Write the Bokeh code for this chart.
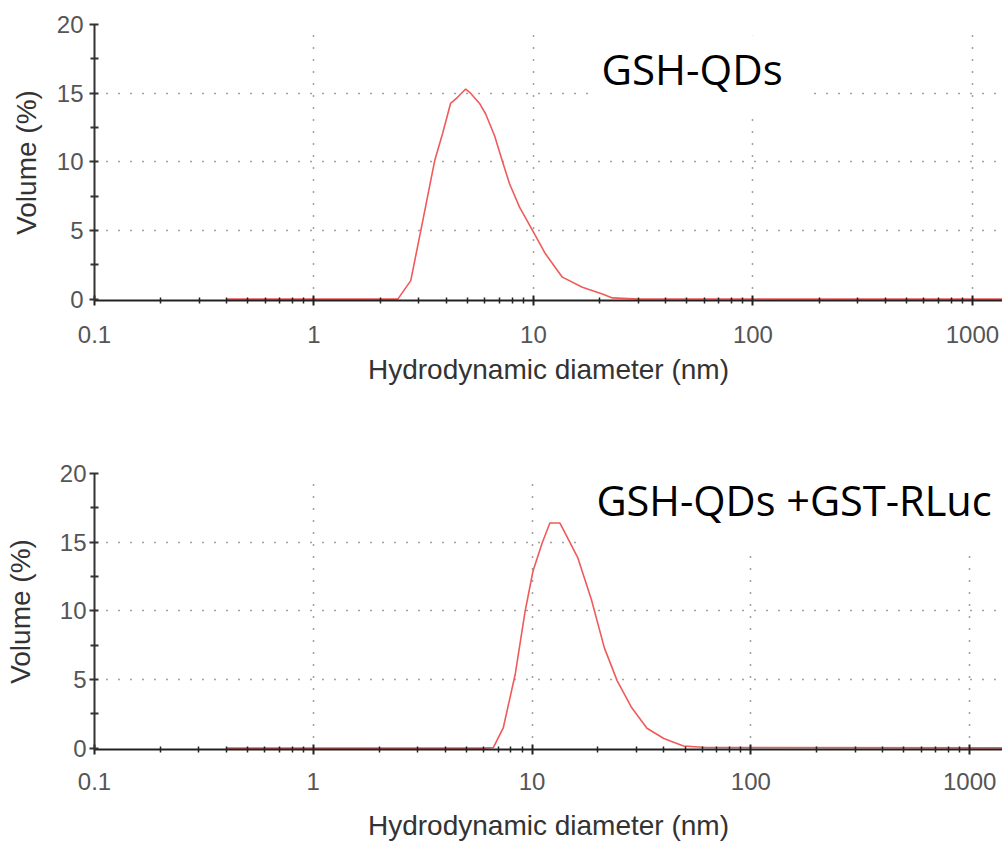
from bokeh.plotting import figure
from bokeh.layouts import column
from bokeh.models import Range1d, FixedTicker, Label, ColumnDataSource
from bokeh.embed import file_html
from bokeh.resources import INLINE

# ---------------- data ----------------
x_major_ticks = [0.1, 1, 10, 100, 1000]
x_tick_labels = ["0.1", "1", "10", "100", "1000"]
x_minor_ticks = [m * d for d in [0.1, 1, 10, 100, 1000] for m in range(2, 10)]
x_grid_ticks = [1, 10, 100, 1000]
y_major_ticks = [0, 5, 10, 15, 20]
y_minor_ticks = [2.5, 7.5, 12.5, 17.5]
y_grid_ticks = [5, 10, 15, 20]

# GSH-QDs
size_qd = [0.4, 2.41, 2.76, 3.13, 3.55, 3.86, 4.19, 4.51, 4.91, 5.17, 5.68,
           6.05, 6.65, 7.23, 7.78, 8.64, 9.9, 11.34, 13.54, 16.7, 20.6,
           22.9, 30.3, 10000]
volume_qd = [0, 0, 1.35, 5.7, 10.1, 12.1, 14.25, 14.7, 15.3, 15.0, 14.25,
             13.5, 11.9, 10.0, 8.4, 6.7, 5.0, 3.3, 1.6, 0.86, 0.38,
             0.09, 0.01, 0]

# GSH-QDs + GST-RLuc
size_rluc = [0.4, 6.0, 6.66, 7.39, 8.38, 9.30, 10.1, 11.1, 12.06, 13.39,
             14.55, 16.15, 18.68, 21.4, 24.5, 28.4, 33.5, 40.0, 49.2, 62.6,
             10000]
volume_rluc = [0, 0, 0.05, 1.5, 5.4, 10.0, 12.9, 14.9, 16.4, 16.4,
               15.3, 13.9, 10.8, 7.3, 4.9, 3.0, 1.45, 0.7, 0.15, 0.05,
               0]

titles = ["GSH-QDs", "GSH-QDs +GST-RLuc"]
x_label = "Hydrodynamic diameter (nm)"
y_label = "Volume (%)"

LINE_RED = "#f05a5a"
AXIS_FONT = "Liberation Sans"


def make_panel(sizes, volumes, title, height, b_left, b_top, b_bottom,
               x_end, title_x, title_y, title_size, pad, y_tick_standoff,
               y_label_standoff, x_tick_standoff, x_label_standoff):
    p = figure(width=1002, height=height, x_axis_type="log",
               x_range=Range1d(0.1, x_end), y_range=Range1d(-0.1, 20),
               output_backend="svg", toolbar_location=None,
               min_border_left=b_left, min_border_right=0,
               min_border_top=b_top, min_border_bottom=b_bottom)
    p.outline_line_color = None
    p.background_fill_color = "white"
    p.border_fill_color = "white"

    src = ColumnDataSource(dict(size=sizes, volume=volumes))
    p.line("size", "volume", source=src, line_color=LINE_RED, line_width=1.6)

    # x axis
    xa = p.xaxis[0]
    xa.ticker = FixedTicker(ticks=x_major_ticks, minor_ticks=x_minor_ticks)
    xa.major_label_overrides = {t: l for t, l in zip(x_major_ticks, x_tick_labels)}
    xa.axis_label = x_label
    xa.axis_label_text_font = AXIS_FONT
    xa.axis_label_text_font_size = "28px"
    xa.axis_label_text_font_style = "normal"
    xa.axis_label_text_color = "#333333"
    xa.axis_label_standoff = x_label_standoff
    xa.major_label_text_font = AXIS_FONT
    xa.major_label_text_font_size = "24px"
    xa.major_label_text_color = "#555555"
    xa.major_label_standoff = x_tick_standoff
    xa.axis_line_color = "#222222"
    xa.axis_line_width = 2
    xa.major_tick_line_color = "#222222"
    xa.major_tick_line_width = 2
    xa.major_tick_in = 5
    xa.major_tick_out = 5
    xa.minor_tick_line_color = "#222222"
    xa.minor_tick_line_width = 1.5
    xa.minor_tick_in = 3
    xa.minor_tick_out = 3

    # y axis
    ya = p.yaxis[0]
    ya.ticker = FixedTicker(ticks=y_major_ticks, minor_ticks=y_minor_ticks)
    ya.axis_label = y_label
    ya.axis_label_text_font = AXIS_FONT
    ya.axis_label_text_font_size = "28px"
    ya.axis_label_text_font_style = "normal"
    ya.axis_label_text_color = "#333333"
    ya.axis_label_standoff = y_label_standoff
    ya.major_label_text_font = AXIS_FONT
    ya.major_label_text_font_size = "24px"
    ya.major_label_text_color = "#555555"
    ya.major_label_standoff = y_tick_standoff
    ya.axis_line_color = "#333333"
    ya.axis_line_width = 2
    ya.major_tick_line_color = "#333333"
    ya.major_tick_line_width = 2
    ya.major_tick_in = 4
    ya.major_tick_out = 5
    ya.minor_tick_line_color = "#333333"
    ya.minor_tick_line_width = 2
    ya.minor_tick_in = 4
    ya.minor_tick_out = 4

    # dotted grids
    p.xgrid.ticker = FixedTicker(ticks=x_grid_ticks)
    p.ygrid.ticker = FixedTicker(ticks=y_grid_ticks)
    for g in (p.xgrid[0], p.ygrid[0]):
        g.grid_line_color = "#444444"
        g.grid_line_width = 1.5
        g.grid_line_dash = "1 11"

    lab = Label(x=title_x, y=title_y, x_units="data", y_units="data",
                text=title, text_font="Open Sans", text_font_size=title_size,
                text_color="black", text_baseline="alphabetic",
                background_fill_color="white", padding=pad)
    p.add_layout(lab)
    return p


top = make_panel(size_qd, volume_qd, titles[0], height=410,
                 b_left=94, b_top=24, b_bottom=110, x_end=1371,
                 title_x=18.0, title_y=16.24, title_size="42px",
                 pad=(12, 22, 5, 20),
                 y_tick_standoff=6, y_label_standoff=12,
                 x_tick_standoff=20, x_label_standoff=8)
bottom = make_panel(size_rluc, volume_rluc, titles[1], height=441,
                    b_left=90, b_top=63, b_bottom=102, x_end=1413,
                    title_x=16.98, title_y=17.96, title_size="41.5px",
                    pad=(14, 20, 18, 22),
                    y_tick_standoff=3, y_label_standoff=21,
                    x_tick_standoff=18, x_label_standoff=17)

layout = column(top, bottom, spacing=0)
open("out.html", "w").write(file_html(layout, INLINE))
